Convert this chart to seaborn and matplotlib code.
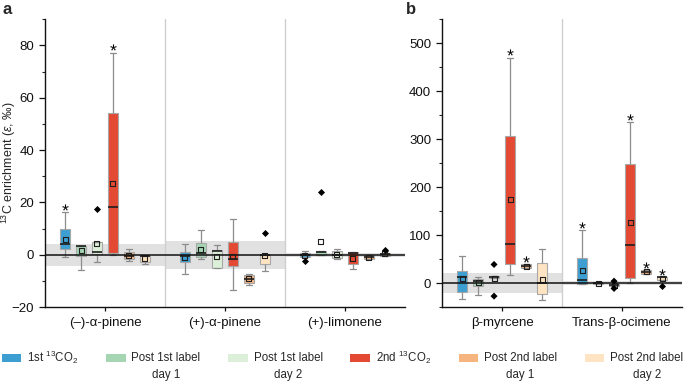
import numpy as np
import pandas as pd
import seaborn as sns
import matplotlib.pyplot as plt
from matplotlib.patches import Patch, Rectangle
from matplotlib.legend_handler import HandlerPatch
from matplotlib.ticker import MultipleLocator


treatments = ["1st", "P1d1", "P1d2", "2nd", "P2d1", "P2d2"]
labels = ["1st $^{13}$CO$_2$\n ", "Post 1st label\nday 1", "Post 1st label\nday 2",
          "2nd $^{13}$CO$_2$\n ", "Post 2nd label\nday 1", "Post 2nd label\nday 2"]
colors = ["#3d9fd1", "#a5d5b3", "#dcefd8", "#e44a33", "#f6b47f", "#fee4c2"]

compounds_a = ["(–)-α-pinene", "(+)-α-pinene", "(+)-limonene"]
compounds_b = ["β-myrcene", "Trans-β-ocimene"]

# low whisker, q1, median, q3, high whisker (one row per treatment)
minus_a_pinene = [[-0.9, 2.3, 4.2, 9.8, 16.3], [-5.7, -0.4, 3.4, 3.5, 3.5],
                  [-2.7, 0.4, 1.1, 4.8, 4.8], [0.0, 0.6, 18.4, 54.2, 77.2],
                  [-2.4, -1.6, -0.3, 1.0, 2.2], [-3.6, -2.7, -0.4, -0.3, 0.1]]
plus_a_pinene = [[-7.5, -2.7, -0.6, 1.0, 4.1], [-1.7, -1.0, 0.6, 4.6, 9.3],
                 [-5.0, -5.0, 1.3, 1.9, 3.6], [-13.3, -4.4, -1.5, 5.0, 13.6],
                 [-11.6, -10.8, -9.1, -7.9, -7.5], [-6.0, -3.6, 0.0, 0.1, 0.1]]
limonene = [[-0.9, -0.9, 0.0, 0.6, 1.6], [-0.1, -0.1, 1.1, 1.6, 1.6],
            [-1.6, -1.4, 0.1, 1.5, 2.2], [-5.5, -3.4, 0.5, 0.9, 0.9],
            [-1.6, -1.6, -0.9, -0.1, -0.1], [-0.3, -0.3, 0.3, 0.8, 1.4]]
myrcene = [[-32.8, -17.4, 11.9, 24.5, 57.0], [-23.7, -4.9, 4.2, 9.1, 12.6],
           [9.8, 9.8, 13.3, 14.0, 14.0], [18.0, 40.4, 81.0, 307.0, 470.0],
           [30.8, 30.8, 34.9, 39.0, 39.0], [-35.6, -23.0, 0.0, 41.8, 71.8]]
ocimene = [[-1.5, -0.7, 5.6, 51.7, 110.0], [-2.0, -2.0, 0.0, 1.0, 1.0],
           [-6.0, -6.0, -4.2, -2.0, -2.0], [0.0, 9.8, 78.8, 248.0, 336.0],
           [19.5, 19.5, 23.7, 27.0, 27.0], [5.6, 5.6, 11.9, 11.9, 11.9]]

means_a = [[5.8, 1.5, 4.2, 27.2, -0.3, -1.5],
           [-0.9, 2.0, -0.6, -0.5, -9.1, -0.4],
           [-0.3, 5.1, 0.1, -1.3, -0.9, 0.4]]
means_b = [[10.5, 2.1, 10.5, 174.6, 34.9, 8.4],
           [27.2, 0.0, -4.2, 125.5, 23.7, 9.0]]

outliers_a = [("(–)-α-pinene", "P1d2", 17.4), ("(+)-α-pinene", "P2d2", 8.3),
              ("(+)-limonene", "1st", -2.3), ("(+)-limonene", "P1d1", 24.1),
              ("(+)-limonene", "P2d2", 1.9)]
outliers_b = [("β-myrcene", "P1d2", 39.0), ("β-myrcene", "P1d2", -27.0),
              ("Trans-β-ocimene", "P1d2", 4.2), ("Trans-β-ocimene", "P1d2", -11.0),
              ("Trans-β-ocimene", "P2d2", -4.9)]

stars_a = [("(–)-α-pinene", "1st", 18.2), ("(–)-α-pinene", "2nd", 79.5)]
stars_b = [("β-myrcene", "2nd", 482.0), ("β-myrcene", "P2d1", 50.0),
           ("Trans-β-ocimene", "1st", 122.0), ("Trans-β-ocimene", "2nd", 347.0),
           ("Trans-β-ocimene", "P2d1", 37.0), ("Trans-β-ocimene", "P2d2", 23.0)]

# half-width of the grey natural-variation band per compound
bands_a = [4.1, 5.3, 0.8]
bands_b = [20.2, 3.5]


def long_table(compounds, boxes):
    rows = []
    for comp, per_trt in zip(compounds, boxes):
        for trt, five in zip(treatments, per_trt):
            for v in five:
                rows.append((comp, trt, v))
    return pd.DataFrame(rows, columns=["compound", "treatment", "value"])


def mean_table(compounds, means):
    rows = [(c, t, m) for c, ms in zip(compounds, means) for t, m in zip(treatments, ms)]
    return pd.DataFrame(rows, columns=["compound", "treatment", "value"])


sns.set_style("ticks")
plt.rcParams["font.family"] = ["Liberation Sans", "DejaVu Sans"]
plt.rcParams["mathtext.fontset"] = "custom"
plt.rcParams["mathtext.rm"] = "Liberation Sans"
plt.rcParams["mathtext.it"] = "Liberation Sans:italic"
plt.rcParams["mathtext.bf"] = "Liberation Sans:bold"

fig = plt.figure(figsize=(6.85, 3.83), dpi=100)
ax_a = fig.add_axes([0.0657, 0.198, 0.5255, 0.752])
ax_b = fig.add_axes([0.6453, 0.198, 0.3504, 0.752])

black = dict(zip(treatments, ["black"] * 6))


def draw_panel(ax, compounds, boxes, means, outliers, stars, bands):
    for i, b in enumerate(bands):
        ax.fill_between([i - 0.5, i + 0.5], -b, b, color="#e1e1e1", lw=0, zorder=0)
    for i in range(len(compounds) - 1):
        ax.axvline(i + 0.5, color="#cfcfcf", lw=1, zorder=0.5)

    sns.boxplot(data=long_table(compounds, boxes), x="compound", y="value",
                hue="treatment", order=compounds, hue_order=treatments,
                palette=colors, saturation=1, whis=(0, 100), width=0.8, gap=0.35,
                linecolor="#a8a8a8", linewidth=0.8, showfliers=False, legend=False,
                medianprops=dict(color="#1e1e1e", linewidth=1.2),
                whiskerprops=dict(color="#8c8c8c", linewidth=0.9),
                capprops=dict(color="#8c8c8c", linewidth=0.9), ax=ax)
    ax.axhline(0, color="#111111", lw=1.1, zorder=3)

    n0 = len(ax.collections)
    sns.stripplot(data=mean_table(compounds, means), x="compound", y="value",
                  hue="treatment", order=compounds, hue_order=treatments,
                  palette=black, dodge=True, jitter=False, marker="s", size=3.6,
                  linewidth=0.8, legend=False, ax=ax)
    for c in ax.collections[n0:]:
        c.set_facecolor("none")
        c.set_edgecolor("#1e1e1e")
        c.set_zorder(5)

    n0 = len(ax.collections)
    out = pd.DataFrame(outliers, columns=["compound", "treatment", "value"])
    sns.stripplot(data=out, x="compound", y="value", hue="treatment",
                  order=compounds, hue_order=treatments, palette=black,
                  dodge=True, jitter=False, marker="D", size=3.6, linewidth=0,
                  legend=False, ax=ax)
    st = pd.DataFrame(stars, columns=["compound", "treatment", "value"])
    sns.stripplot(data=st, x="compound", y="value", hue="treatment",
                  order=compounds, hue_order=treatments, palette=black,
                  dodge=True, jitter=False, marker="$*$", size=4.5, linewidth=0,
                  legend=False, ax=ax)
    for c in ax.collections[n0:]:
        c.set_zorder(5)

    ax.set_xlim(-0.5, len(compounds) - 0.5)
    ax.set_xlabel("")
    ax.set_ylabel("")
    sns.despine(ax=ax)
    for s in ("left", "bottom"):
        ax.spines[s].set_color("#111111")
        ax.spines[s].set_linewidth(1)
    ax.tick_params(axis="both", labelsize=9.5, colors="#111111", length=4.3, width=0.9)
    ax.tick_params(axis="x", length=3, pad=4)
    ax.tick_params(axis="y", which="minor", length=2.5, width=0.8)


draw_panel(ax_a, compounds_a, [minus_a_pinene, plus_a_pinene, limonene],
           means_a, outliers_a, stars_a, bands_a)
ax_a.set_ylim(-20, 90)
ax_a.yaxis.set_major_locator(MultipleLocator(20))
ax_a.yaxis.set_minor_locator(MultipleLocator(10))
ax_a.set_ylabel("$^{13}$C enrichment ($\\varepsilon$, ‰)", fontsize=9)
ax_a.yaxis.set_label_coords(-0.074, 0.5)

draw_panel(ax_b, compounds_b, [myrcene, ocimene], means_b, outliers_b, stars_b, bands_b)
ax_b.set_ylim(-50, 550)
ax_b.yaxis.set_major_locator(MultipleLocator(100))
ax_b.yaxis.set_minor_locator(MultipleLocator(50))

fig.text(0.004, 0.995, "a", fontsize=12, fontweight="bold", va="top")
fig.text(0.593, 0.995, "b", fontsize=12, fontweight="bold", va="top")


def top_patch(legend, orig_handle, xdescent, ydescent, width, height, fontsize):
    return Rectangle((-xdescent, -ydescent + 0.8 * fontsize), width, height)


handles = [Patch(facecolor=c, edgecolor="none") for c in colors]
leg = fig.legend(handles, labels, loc="lower center", bbox_to_anchor=(0.5, -0.02),
                 ncol=6, frameon=False, fontsize=8.3, handlelength=1.7,
                 handleheight=0.7, handletextpad=0.5, columnspacing=2.4,
                 borderaxespad=0.2,
                 handler_map={Patch: HandlerPatch(patch_func=top_patch)})
for t in leg.get_texts():
    t.set_multialignment("center")
    t.set_linespacing(1.6)

fig.savefig("out.png", dpi=100)
